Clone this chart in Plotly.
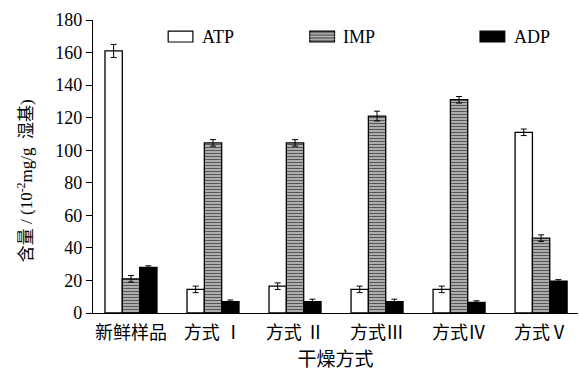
import plotly.graph_objects as go

categories = ["新鲜样品", "方式 Ⅰ", "方式 Ⅱ", "方式Ⅲ", "方式Ⅳ", "方式Ⅴ"]
atp = [161, 14.5, 16.5, 14.5, 14.5, 111]
atp_err = [4, 2, 2, 2, 2, 2]
imp = [21, 104.5, 104.5, 121, 131, 46]
imp_err = [2, 2, 2, 3, 2, 2]
adp = [28, 7, 7, 7, 6.5, 19.5]
adp_err = [1, 1, 1.5, 1.5, 1, 1]

FONT = "Liberation Serif, Noto Sans CJK SC, serif"
err_style = dict(type="data", color="black", thickness=1, width=3)

x = list(range(len(categories)))
fig = go.Figure()
fig.add_trace(go.Bar(
    name="ATP", x=x, y=atp, error_y=dict(array=atp_err, **err_style),
    marker=dict(color="white", line=dict(color="black", width=1.3)),
))
fig.add_trace(go.Bar(
    name="IMP", x=x, y=imp, error_y=dict(array=imp_err, **err_style),
    marker=dict(color="white", line=dict(color="black", width=1.3),
                pattern=dict(shape="-", fgcolor="#555555", bgcolor="white",
                             size=3, solidity=0.65, fgopacity=1)),
))
fig.add_trace(go.Bar(
    name="ADP", x=x, y=adp, error_y=dict(array=adp_err, **err_style),
    marker=dict(color="black", line=dict(color="black", width=1.3)),
))

# legend drawn as boxes + labels along the top of the plot
legend_items = [("ATP", 0.155, "white"), ("IMP", 0.447, "#6e6e6e"), ("ADP", 0.798, "black")]
shapes = []
annotations = []
y0, y1 = 0.925, 0.962
for name, x0, fill in legend_items:
    x1 = x0 + 0.051
    shapes.append(dict(type="rect", xref="paper", yref="paper", x0=x0, x1=x1,
                       y0=y0, y1=y1, fillcolor=fill, line=dict(color="black", width=1.2)))
    if name == "IMP":
        for k in range(1, 4):
            yy = y0 + (y1 - y0) * k / 4
            shapes.append(dict(type="line", xref="paper", yref="paper", x0=x0, x1=x1,
                               y0=yy, y1=yy, line=dict(color="#bdbdbd", width=1)))
    annotations.append(dict(text=name, xref="paper", yref="paper", x=x1 + 0.014,
                            y=(y0 + y1) / 2, xanchor="left", yanchor="middle",
                            showarrow=False, font=dict(family=FONT, size=18, color="black")))

# y-axis title, placed as a rotated label left of the tick labels
annotations.append(dict(text="含量 / (10<sup>-2</sup>mg/g  湿基)", xref="paper", yref="paper",
                        x=-0.140, y=0.45, xanchor="center", yanchor="middle", textangle=-90,
                        showarrow=False, font=dict(family=FONT, size=17, color="black")))

fig.update_layout(
    width=579, height=374,
    margin=dict(l=93, r=1, t=20, b=61),
    paper_bgcolor="white", plot_bgcolor="white",
    barmode="group", bargap=0.366, bargroupgap=0,
    showlegend=False,
    shapes=shapes, annotations=annotations,
    font=dict(family=FONT, color="black"),
)
fig.update_xaxes(
    tickmode="array", tickvals=x, ticktext=categories,
    range=[-0.463, 5.45], showline=True, linecolor="black", linewidth=1.3,
    ticks="", showgrid=False, zeroline=False, ticklabelstandoff=3,
    tickfont=dict(family=FONT, size=18),
    title=dict(text="干燥方式", font=dict(family=FONT, size=19), standoff=10),
)
fig.update_yaxes(
    range=[0, 180], tickvals=list(range(0, 181, 20)),
    showline=True, linecolor="black", linewidth=1.3,
    ticks="outside", ticklen=6, tickwidth=1.3, tickcolor="black",
    showgrid=False, zeroline=False,
    tickfont=dict(family=FONT, size=18),
)

fig.write_html("out.html")
